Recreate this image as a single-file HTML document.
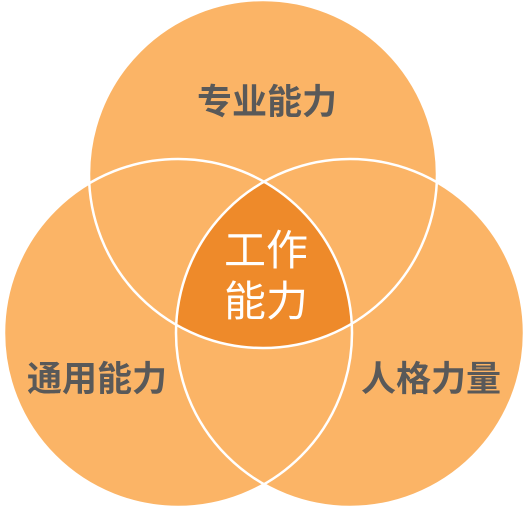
<!DOCTYPE html>
<html><head><meta charset="utf-8"><style>
html,body{margin:0;padding:0;background:#fff;}
svg{display:block;}
.lbl{font-family:"Liberation Sans","Noto Sans CJK SC",sans-serif;font-weight:bold;font-size:35px;fill:#595959;}
.ctr{font-family:"Liberation Sans","Noto Sans CJK SC",sans-serif;font-size:42px;fill:#fff;}
</style></head><body>
<svg width="528" height="510" viewBox="0 0 528 510">
<defs>
<clipPath id="cT"><circle cx="263" cy="174" r="174"/></clipPath>
<clipPath id="cL"><circle cx="178" cy="333" r="174"/></clipPath>
</defs>
<circle cx="263" cy="174" r="174" fill="#FBB466"/>
<circle cx="178" cy="333" r="174" fill="#FBB466"/>
<circle cx="350" cy="333" r="174" fill="#FBB466"/>
<g clip-path="url(#cT)"><g clip-path="url(#cL)">
<circle cx="350" cy="333" r="174" fill="#EE8A2A"/>
</g></g>
<g fill="none" stroke="#fff" stroke-width="2.5">
<circle cx="263" cy="174" r="174"/>
<circle cx="178" cy="333" r="174"/>
<circle cx="350" cy="333" r="174"/>
</g>
<text class="lbl" x="267" y="114" text-anchor="middle">专业能力</text>
<text class="lbl" x="97" y="391" text-anchor="middle">通用能力</text>
<text class="lbl" x="431" y="391" text-anchor="middle">人格力量</text>
<text class="ctr" x="266" y="265" text-anchor="middle">工作</text>
<text class="ctr" x="266" y="316" text-anchor="middle">能力</text>
</svg>
</body></html>
